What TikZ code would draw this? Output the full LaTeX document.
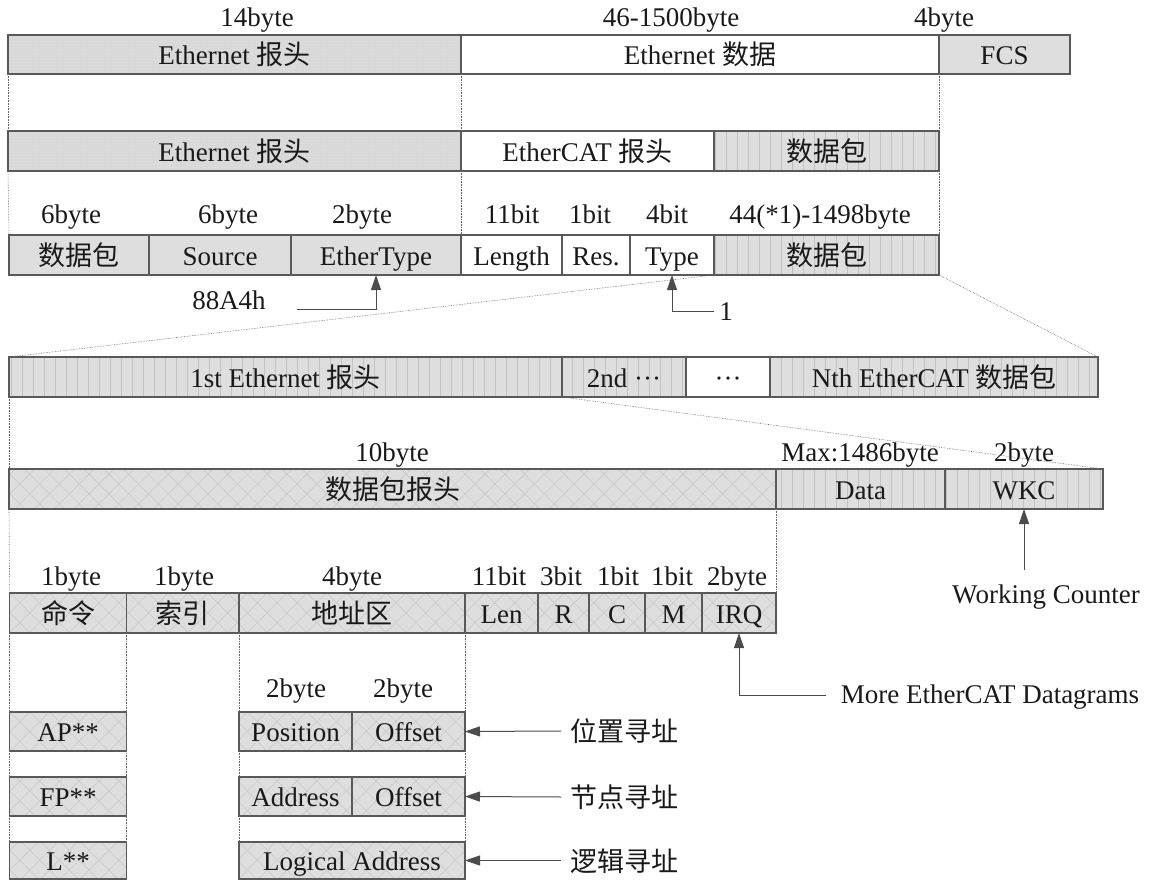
\documentclass[tikz,border=0pt]{standalone}
\usepackage{fontspec}
\setmainfont{Liberation Serif}
\newfontfamily\cjk{Noto Sans CJK SC}
\usetikzlibrary{patterns.meta,arrows.meta}
\newcommand{\zh}[1]{{\cjk #1}}
\newcommand{\cell}[7]{\node[cellbox,#6,minimum width={(#4-#2)*1pt},minimum height={(#5-#3)*1pt}] (#1) at ({(#2+#4)/2},{(#3+#5)/2}) {#7};}
\tikzset{
  every node/.style={font=\fontsize{27}{32}\selectfont, text=black!90},
  cellbox/.style={draw=black!65, line width=1.2pt, inner sep=0pt, outer sep=0pt, text height=22pt, text depth=2pt},
  white/.style={fill=white},
  plain/.style={fill=black!13},
  dotsf/.style={preaction={fill=black!14}, pattern={Dots[distance=3pt,radius=0.45pt]}, pattern color=black!28},
  vl/.style={preaction={fill=black!13}, pattern={Lines[angle=90,distance=11pt,line width=0.6pt]}, pattern color=black!24},
  xh/.style={preaction={fill=black!13}, preaction={pattern={Lines[angle=45,distance=14pt,line width=0.5pt]}, pattern color=black!22}, pattern={Lines[angle=-45,distance=14pt,line width=0.5pt]}, pattern color=black!22},
  lab/.style={anchor=base, inner sep=0pt},
  dotl/.style={densely dotted, line width=0.6pt, black!60},
  arr/.style={draw=black!70, line width=1pt, -{Triangle[length=15pt,width=10pt]}},
}
\begin{document}
\begin{tikzpicture}[x=1pt,y=-1pt]
\useasboundingbox (0,0) rectangle (1151,880);
% row 1
\cell{eh1}{8}{35}{461}{74}{dotsf}{Ethernet \zh{报头}}
\cell{ed1}{461}{35}{939}{74}{white}{Ethernet \zh{数据}}
\cell{fcs}{939}{35}{1070}{74}{plain}{FCS}
\node[lab] (l14) at (257,27) {14byte};
\node[lab] (l46) at (671,27) {46-1500byte};
\node[lab] (l4) at (944,27) {4byte};
% row 2
\cell{eh2}{8}{131}{461}{171}{dotsf}{Ethernet \zh{报头}}
\cell{ech}{461}{131}{714}{171}{white}{EtherCAT \zh{报头}}
\cell{dp2}{714}{131}{939}{171}{vl}{\zh{数据包}}
% row 3
\cell{r3a}{9}{235}{149}{275}{plain}{\zh{数据包}}
\cell{src}{149}{235}{291}{275}{plain}{Source}
\cell{et}{291}{235}{461}{275}{plain}{EtherType}
\cell{len}{461}{235}{562}{275}{white}{Length}
\cell{res}{562}{235}{630}{275}{white}{Res.}
\cell{typ}{630}{235}{714}{275}{white}{Type}
\cell{dp3}{714}{235}{939}{275}{vl}{\zh{数据包}}
\node[lab] (b6a) at (71,223) {6byte};
\node[lab] (b6b) at (228,223) {6byte};
\node[lab] (b2) at (362,223) {2byte};
\node[lab] (b11) at (512,223) {11bit};
\node[lab] (b1) at (590,223) {1bit};
\node[lab] (b4) at (667,223) {4bit};
\node[lab] (b44) at (820,223) {44(*1)-1498byte};
\node[lab] (h88) at (229,309) {88A4h};
\node[lab] (one) at (726,320) {1};
\coordinate (c88) at (297,309);
\coordinate (c1) at (714,311);
\draw[arr] (c88) -| (et.south);
\draw[arr] (c1) -| (typ.south);
% row 4
\cell{p1}{9}{357}{562}{397}{vl}{1st Ethernet \zh{报头}}
\cell{p2}{562}{357}{686}{397}{vl}{2nd ···}
\cell{p3}{686}{357}{770}{397}{white}{···}
\cell{pn}{770}{357}{1098}{397}{vl}{Nth EtherCAT \zh{数据包}}
% row 5
\cell{hdr}{9}{469}{776}{509}{xh}{\zh{数据包报头}}
\cell{dat}{776}{469}{945}{509}{vl}{Data}
\cell{wkc}{945}{469}{1103}{509}{vl}{WKC}
\node[lab] (b10) at (392,461) {10byte};
\node[lab] (bmax) at (860,461) {Max:1486byte};
\node[lab] (b2w) at (1024,461) {2byte};
\node[lab] (wc) at (1046,603) {Working Counter};
\coordinate (cwc) at (1024,570);
\draw[arr] (cwc) -- (wkc.south);
% row 6
\cell{cmd}{9.7}{593}{126.5}{633}{xh}{\zh{命令}}
\cell{idx}{126.5}{593}{239}{633}{xh}{\zh{索引}}
\cell{addr}{239}{593}{465}{633}{xh}{\zh{地址区}}
\cell{lenb}{465}{593}{538}{633}{xh}{Len}
\cell{rr}{538}{593}{589}{633}{xh}{R}
\cell{cc}{589}{593}{645}{633}{xh}{C}
\cell{mm}{645}{593}{702}{633}{xh}{M}
\cell{irq}{702}{593}{776}{633}{xh}{IRQ}
\node[lab] (q1) at (71,585) {1byte};
\node[lab] (q2) at (184,585) {1byte};
\node[lab] (q3) at (352,585) {4byte};
\node[lab] (q4) at (499,585) {11bit};
\node[lab] (q5) at (561,585) {3bit};
\node[lab] (q6) at (618,585) {1bit};
\node[lab] (q7) at (672,585) {1bit};
\node[lab] (q8) at (737,585) {2byte};
\node[lab] (more) at (990,703) {More EtherCAT Datagrams};
\coordinate (cmore) at (826,695);
\draw[arr] (cmore) -| (irq.south);
% rows 7-9
\cell{ap}{9.7}{712}{126.5}{751}{xh}{AP**}
\cell{pos}{239}{712}{352}{751}{xh}{Position}
\cell{off1}{352}{712}{465}{751}{xh}{Offset}
\cell{fp}{9.7}{777}{126.5}{816}{xh}{FP**}
\cell{adr}{239}{777}{352}{816}{xh}{Address}
\cell{off2}{352}{777}{465}{816}{xh}{Offset}
\cell{ll}{9.7}{842}{126.5}{879}{xh}{L**}
\cell{la}{239}{842}{465}{879}{xh}{Logical Address}
\node[lab] (s1) at (296,697) {2byte};
\node[lab] (s2) at (403,697) {2byte};
\node[anchor=west, inner sep=0pt] (t1) at (570,731) {\zh{位置寻址}};
\node[anchor=west, inner sep=0pt] (t2) at (570,797) {\zh{节点寻址}};
\node[anchor=west, inner sep=0pt] (t3) at (570,861) {\zh{逻辑寻址}};
\draw[arr] ([xshift=-9pt]t1.west) -- (off1.east);
\draw[arr] ([xshift=-9pt]t2.west) -- (off2.east);
\draw[arr] ([xshift=-9pt]t3.west |- la.east) -- (la.east);
% dotted guide lines
\draw[dotl] (eh1.south west) -- (eh2.north west);
\draw[dotl] (eh1.south east) -- (eh2.north east);
\draw[dotl] (ed1.south east) -- (dp2.north east);
\draw[dotl] (eh2.south west) -- (r3a.north west);
\draw[dotl] (eh2.south east) -- (et.north east);
\draw[dotl] (dp2.south east) -- (dp3.north east);
\draw[dotl] (dp3.south west) -- (p1.north west);
\draw[dotl] (dp3.south east) -- (pn.north east);
\draw[dotl] (p1.south west) -- (hdr.north west);
\draw[dotl] (p2.south west) -- (wkc.north east);
\draw[dotl] (hdr.south west) -- (cmd.north west);
\draw[dotl] (hdr.south east) -- (irq.north east);
\draw[dotl] (cmd.south west) -- (ap.north west);
\draw[dotl] (ap.south west) -- (fp.north west);
\draw[dotl] (fp.south west) -- (ll.north west);
\draw[dotl] (cmd.south east) -- (ll.north east);
\draw[dotl] (addr.south west) -- (pos.north west);
\draw[dotl] (pos.south west) -- (adr.north west);
\draw[dotl] (adr.south west) -- (la.north west);
\draw[dotl] (addr.south east) -- (off1.north east);
\draw[dotl] (off1.south east) -- (off2.north east);
\draw[dotl] (off2.south east) -- (la.north east);
\end{tikzpicture}
\end{document}
